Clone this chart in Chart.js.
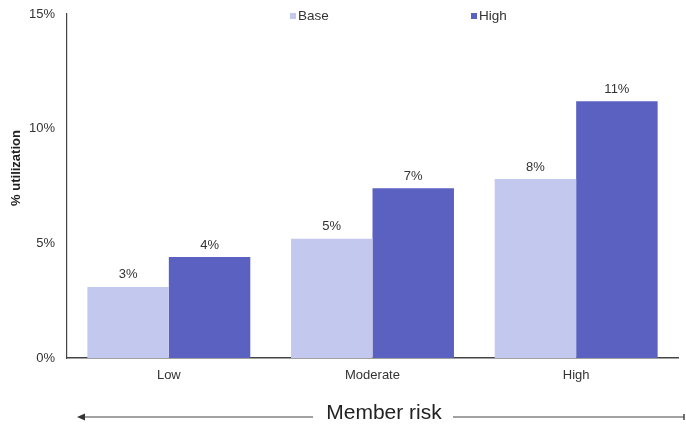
<!DOCTYPE html>
<html>
<head>
<meta charset="utf-8">
<script src="https://cdn.jsdelivr.net/npm/chart.js@4/dist/chart.umd.min.js"></script>
<style>
  html, body { margin: 0; padding: 0; background: #ffffff; }
  #wrap { width: 686px; height: 426px; }
</style>
</head>
<body>
<div id="wrap"><canvas id="c" width="686" height="426"></canvas></div>
<script>
// Utilization (%) by member risk group
const categories = ['Low', 'Moderate', 'High'];
const baseValues = [3.1, 5.2, 7.8];
const highValues = [4.4, 7.4, 11.2];
const seriesNames = ['Base', 'High'];
const yTicks = [0, 5, 10, 15];
const axisTitle = '% utilization';
const riskTitle = 'Member risk';

const FONT = '"Liberation Sans", Arial, Helvetica, sans-serif';
const TEXT = '#333333';

// value labels above each bar
const valueLabels = {
  id: 'valueLabels',
  afterDatasetsDraw(chart) {
    const ctx = chart.ctx;
    ctx.save();
    ctx.font = '13px ' + FONT;
    ctx.fillStyle = TEXT;
    ctx.textAlign = 'center';
    ctx.textBaseline = 'middle';
    chart.data.datasets.forEach((ds, i) => {
      chart.getDatasetMeta(i).data.forEach((bar, j) => {
        ctx.fillText(Math.round(ds.data[j]) + '%', bar.x, bar.y - 12);
      });
    });
    ctx.restore();
  }
};

// legend, axis title and the "Member risk" arrow
const decorations = {
  id: 'decorations',
  afterDraw(chart) {
    const ctx = chart.ctx;
    ctx.save();

    // legend
    const legendPos = [290, 471];
    ctx.font = '13.5px ' + FONT;
    ctx.textBaseline = 'middle';
    ctx.textAlign = 'left';
    chart.data.datasets.forEach((ds, i) => {
      const x = legendPos[i];
      ctx.fillStyle = ds.backgroundColor;
      ctx.fillRect(x, 13, 6, 6);
      ctx.fillStyle = TEXT;
      ctx.fillText(ds.label, x + 8, 16);
    });

    // y axis title
    ctx.save();
    ctx.translate(16, 168);
    ctx.rotate(-Math.PI / 2);
    ctx.font = 'bold 13px ' + FONT;
    ctx.fillStyle = '#222222';
    ctx.textAlign = 'center';
    ctx.textBaseline = 'middle';
    ctx.fillText(axisTitle, 0, 0);
    ctx.restore();

    // Member risk arrow
    const ly = 417;
    ctx.strokeStyle = '#444444';
    ctx.lineWidth = 1.2;
    ctx.beginPath();
    ctx.moveTo(82, ly); ctx.lineTo(313, ly);
    ctx.moveTo(453, ly); ctx.lineTo(684, ly);
    ctx.stroke();
    ctx.fillStyle = '#333333';
    ctx.beginPath();
    ctx.moveTo(77, ly);
    ctx.lineTo(85, ly - 3.5);
    ctx.lineTo(85, ly + 3.5);
    ctx.closePath();
    ctx.fill();
    ctx.lineWidth = 1.5;
    ctx.beginPath();
    ctx.moveTo(684, ly - 3); ctx.lineTo(684, ly + 3);
    ctx.stroke();

    ctx.font = '21px ' + FONT;
    ctx.fillStyle = '#222222';
    ctx.textAlign = 'center';
    ctx.textBaseline = 'middle';
    ctx.fillText(riskTitle, 384, 413);

    ctx.restore();
  }
};

new Chart(document.getElementById('c'), {
  type: 'bar',
  data: {
    labels: categories,
    datasets: [
      { label: seriesNames[0], data: baseValues, backgroundColor: '#c3c8ee' },
      { label: seriesNames[1], data: highValues, backgroundColor: '#5a61c0' }
    ]
  },
  options: {
    responsive: false,
    animation: false,
    events: [],
    layout: { padding: { top: 14, right: 8, left: 0, bottom: 0 } },
    datasets: { bar: { categoryPercentage: 0.8, barPercentage: 1.0 } },
    plugins: {
      legend: { display: false },
      tooltip: { enabled: false }
    },
    scales: {
      x: {
        grid: { display: false, drawTicks: false },
        border: { display: true, color: '#444444', width: 1.5 },
        ticks: { color: TEXT, font: { family: FONT, size: 13 }, padding: 10 },
        afterFit(scale) {
          scale.height = 68;
          scale.paddingLeft = 0;
          scale.paddingRight = 0;
        }
      },
      y: {
        min: 0,
        max: 15,
        afterBuildTicks(scale) { scale.ticks = yTicks.map(v => ({ value: v })); },
        grid: { display: false, drawTicks: false },
        border: { display: true, color: '#444444', width: 1.2 },
        ticks: {
          color: TEXT,
          font: { family: FONT, size: 13 },
          padding: 12,
          callback: v => v + '%'
        },
        afterFit(scale) {
          scale.width = 67;
          scale.paddingTop = 0;
          scale.paddingBottom = 0;
        }
      }
    }
  },
  plugins: [valueLabels, decorations]
});
</script>
</body>
</html>
